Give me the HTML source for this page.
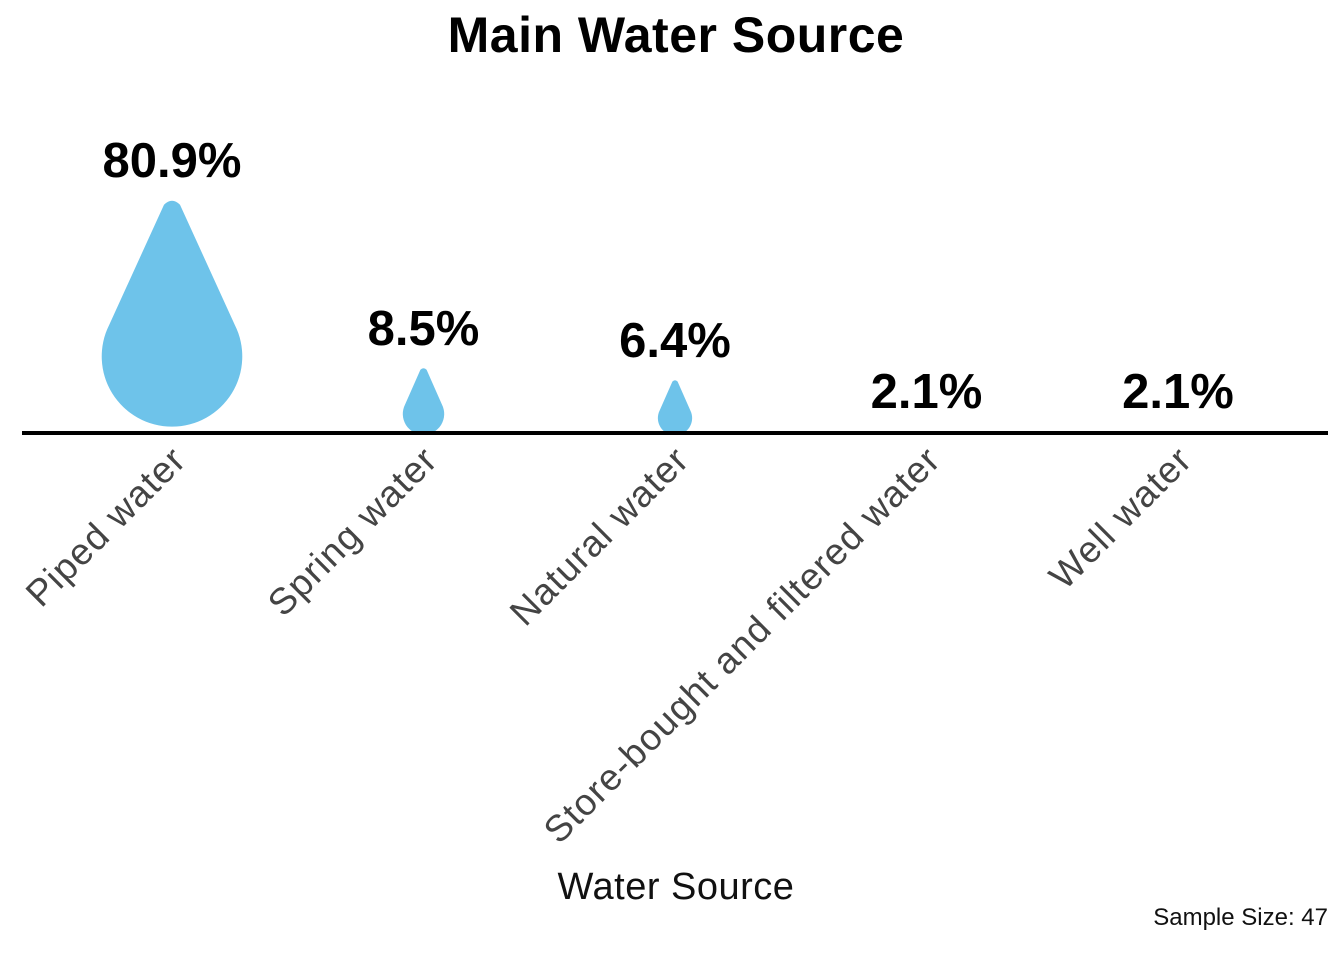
<!DOCTYPE html>
<html><head><meta charset="utf-8">
<style>
body{margin:0;background:#fff;}
svg{display:block;font-family:"Liberation Sans",sans-serif;}
</style></head>
<body>
<svg id="chart" width="1344" height="960" viewBox="0 0 1344 960">
<defs><clipPath id="clip"><rect x="0" y="0" width="1344" height="431"/></clipPath></defs>
<text x="676" y="52" text-anchor="middle" font-size="50" font-weight="bold" letter-spacing="0.5">Main Water Source</text>
<g id="drops" clip-path="url(#clip)"></g>
<g id="labels"></g>
<line x1="22" y1="433" x2="1328" y2="433" stroke="#000" stroke-width="4"/>
<g id="ticks"></g>
<text x="676" y="899" text-anchor="middle" font-size="38" letter-spacing="0.5" fill="#111">Water Source</text>
<text x="1328" y="925" text-anchor="end" font-size="24" fill="#111">Sample Size: 47</text>
</svg>
<script>
const categories = ["Piped water","Spring water","Natural water","Store-bought and filtered water","Well water"];
const values = [80.9, 8.5, 6.4, 2.1, 2.1];
const valueLabels = ["80.9%","8.5%","6.4%","2.1%","2.1%"];

const NS="http://www.w3.org/2000/svg";
const x0=172, step=251.5;
const xPos=i=>x0+i*step;
const minV=Math.min(...values);
const hScale=v=>25.2*Math.sqrt(Math.max(0,v-minV))+3;
const dropsG=document.getElementById('drops'), labG=document.getElementById('labels'), tickG=document.getElementById('ticks');
values.forEach((v,i)=>{
  const cx=xPos(i), H=hScale(v), r=0.31*H;
  const bottom=438-0.05*H, top=bottom-H, cy=bottom-r;
  const d=cy-top, a=Math.asin(Math.min(1,r/d));
  const tx=r*Math.cos(a), ty=cy-r*Math.sin(a);
  const tip=Math.min(r*0.15,8);
  const p=`M ${cx-tip} ${top+tip*0.6} Q ${cx} ${top-tip*0.4} ${cx+tip} ${top+tip*0.6} L ${cx+tx} ${ty} A ${r} ${r} 0 1 1 ${cx-tx} ${ty} Z`;
  const path=document.createElementNS(NS,'path');
  path.setAttribute('d',p);path.setAttribute('fill','#6ec3ea');
  
  
  dropsG.appendChild(path);
  const t=document.createElementNS(NS,'text');
  t.setAttribute('x',cx);t.setAttribute('y',Math.min(top,431)-23);
  t.setAttribute('text-anchor','middle');t.setAttribute('font-size','49');t.setAttribute('font-weight','bold');
  t.textContent=valueLabels[i];
  
  
  labG.appendChild(t);
  const k=document.createElementNS(NS,'text');
  k.setAttribute('transform',`translate(${cx+16},${462}) rotate(-45)`);
  k.setAttribute('text-anchor','end');k.setAttribute('font-size','37');k.setAttribute('letter-spacing','1.1');k.setAttribute('fill','#444');
  k.textContent=categories[i];
  
  
  tickG.appendChild(k);
});
</script>
</body></html>
